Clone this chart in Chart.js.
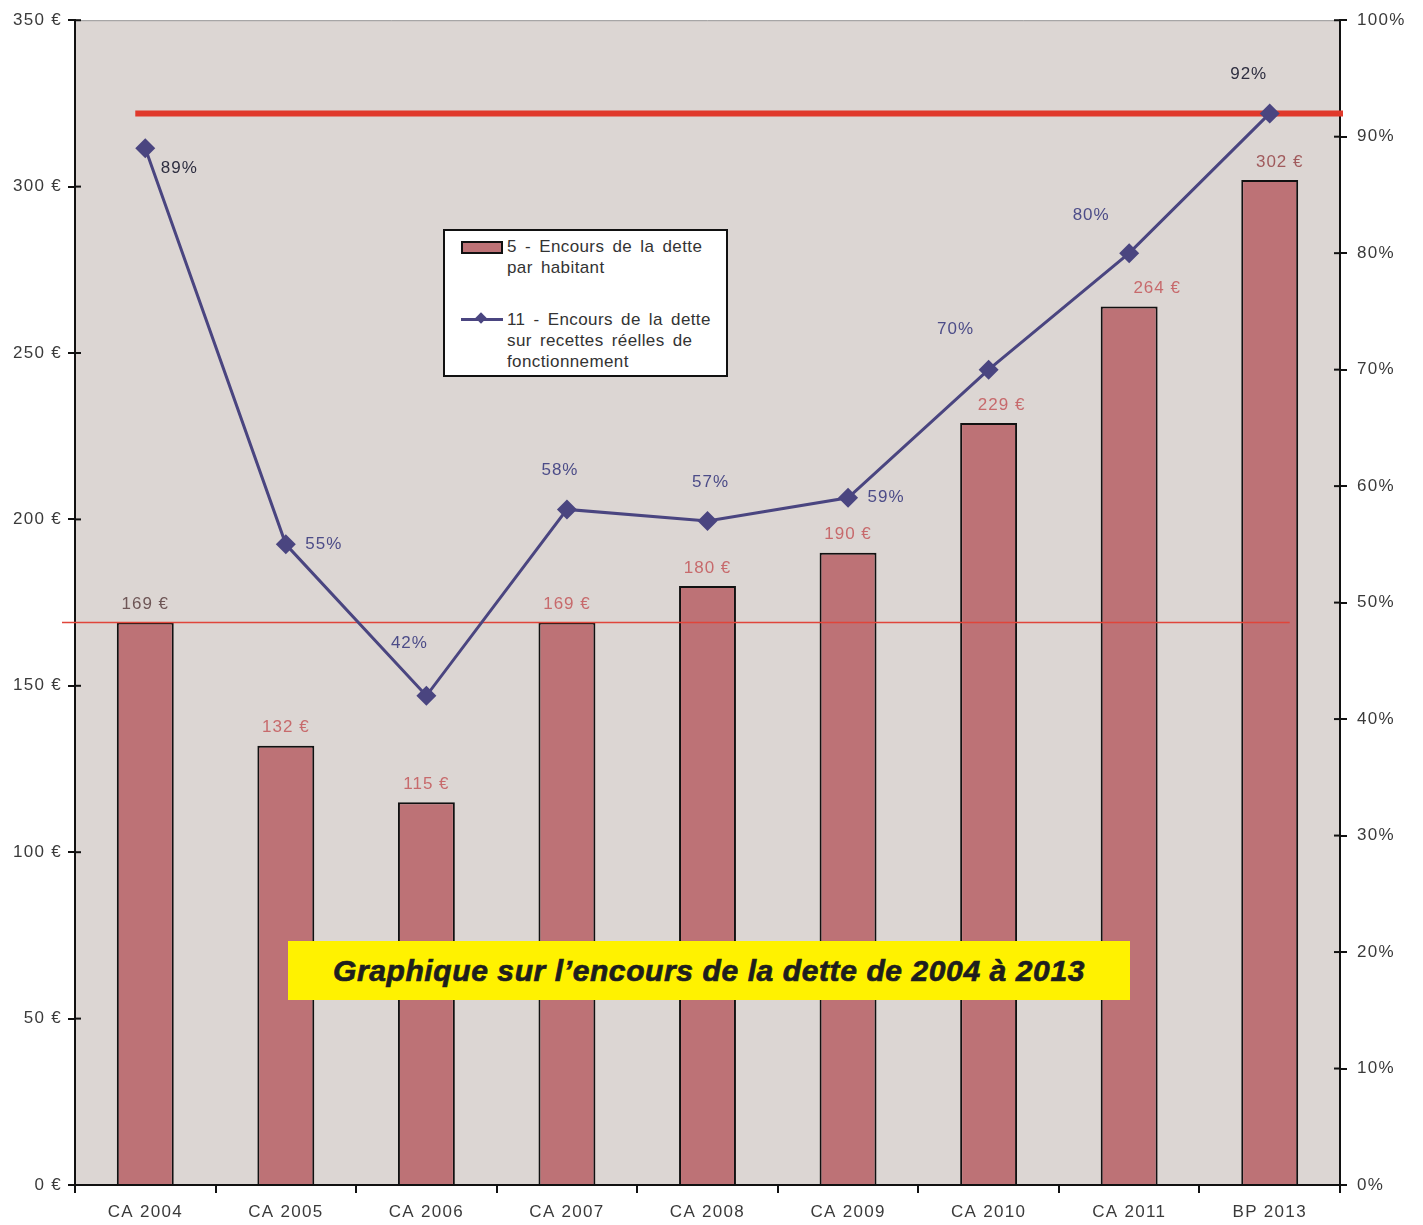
<!DOCTYPE html>
<html lang="fr">
<head>
<meta charset="utf-8">
<script src="https://cdn.jsdelivr.net/npm/chart.js@4/dist/chart.umd.min.js"></script>
<style>
  html, body { margin: 0; padding: 0; background: #fff; }
  #wrap { position: relative; width: 1423px; height: 1225px; }
  #legend {
    position: absolute; left: 443px; top: 229px; width: 281px; height: 144px;
    background: #fff; border: 2px solid #111;
    font-family: "Liberation Sans", Arial, sans-serif; font-size: 17px; color: #333; line-height: 21px;
    letter-spacing: 0.4px;
  }
  .lg-row { position: absolute; left: 62px; word-spacing: 3px; white-space: nowrap; }
  .sw-bar { position: absolute; left: 16px; top: 10px; width: 38px; height: 9px; background: #bd7276; border: 2px solid #111; }
  .sw-line { position: absolute; left: 16px; top: 87px; width: 42px; height: 3px; background: #4a4580; }
  .sw-dot { position: absolute; left: 32px; top: 83px; width: 8px; height: 8px; background: #4a4580; transform: rotate(45deg); }
  #title {
    position: absolute; left: 288px; top: 941px; width: 842px; height: 59px;
    background: #fff200; color: #1e1e1e; text-align: center; line-height: 59px;
    font-family: "Liberation Sans", Arial, sans-serif; font-weight: bold; font-style: italic; font-size: 30px;
    letter-spacing: 0.6px; -webkit-text-stroke: 0.7px #1e1e1e;
  }
</style>
</head>
<body>
<div id="wrap">
  <canvas id="chart" width="1423" height="1225"></canvas>
  <div id="legend">
    <div class="sw-bar"></div>
    <div class="lg-row" style="top:5px">5 - Encours de la dette<br>par habitant</div>
    <div class="sw-line"></div><div class="sw-dot"></div>
    <div class="lg-row" style="top:78px">11 - Encours de la dette<br>sur recettes réelles de<br>fonctionnement</div>
  </div>
  <div id="title">Graphique sur l’encours de la dette de 2004 à 2013</div>
</div>
<script>
const categories = ['CA 2004', 'CA 2005', 'CA 2006', 'CA 2007', 'CA 2008', 'CA 2009', 'CA 2010', 'CA 2011', 'BP 2013'];
const detteHabitant = [169, 132, 115, 169, 180, 190, 229, 264, 302];
const detteRecettes = [89, 55, 42, 58, 57, 59, 70, 80, 92];
const refHabitant = 169;
const refRecettes = 92;

const FONT = '"Liberation Sans", Arial, sans-serif';

// decalages des etiquettes (style)
const barLabelDx = [0, 0, 0, 0, 0, 0, 13, 28, 10];
const lineLabelOff = [[34, 20], [38, 0], [-17, -52], [-7, -39], [3, -39], [38, 0], [-33, -40], [-38, -38], [-21, -39]];
const barLabelColor = ['#6e5656', '#c76a6c', '#c76a6c', '#c76a6c', '#c76a6c', '#c76a6c', '#c76a6c', '#c76a6c', '#a05a5c'];
const lineLabelColor = ['#2e2e40', '#4c4c88', '#4c4c88', '#4c4c88', '#4c4c88', '#4c4c88', '#4c4c88', '#4c4c88', '#2e2e40'];

const decor = {
  id: 'decor',
  beforeDraw(chart) {
    const { ctx, chartArea: a } = chart;
    ctx.letterSpacing = '1.3px';
    ctx.save();
    ctx.fillStyle = '#dcd6d3';
    ctx.fillRect(a.left, a.top, a.right - a.left, a.bottom - a.top);
    ctx.strokeStyle = '#9a9a9a';
    ctx.lineWidth = 1;
    ctx.beginPath(); ctx.moveTo(a.left, a.top + 0.5); ctx.lineTo(a.right, a.top + 0.5); ctx.stroke();
    ctx.restore();
  },
  afterDatasetsDraw(chart) {
    const { ctx, chartArea: a, scales } = chart;
    const x = scales.x, y = scales.y, y1 = scales.y1;
    ctx.save();
    // ligne fine a 169 €
    const yr = y.getPixelForValue(refHabitant);
    ctx.strokeStyle = '#e0453a'; ctx.lineWidth = 1.5;
    ctx.beginPath(); ctx.moveTo(a.left - 13, yr); ctx.lineTo(x.getPixelForValue(8) + 20, yr); ctx.stroke();
    // ligne epaisse a 92 %
    const yp = y1.getPixelForValue(refRecettes);
    ctx.strokeStyle = '#e0392b'; ctx.lineWidth = 6;
    ctx.beginPath(); ctx.moveTo(x.getPixelForValue(0) - 10, yp); ctx.lineTo(a.right + 3, yp); ctx.stroke();

    // redessiner la courbe au-dessus des lignes rouges
    const meta = chart.getDatasetMeta(1);
    ctx.strokeStyle = '#4a4580'; ctx.lineWidth = 3;
    ctx.beginPath();
    meta.data.forEach((p, i) => { if (i) ctx.lineTo(p.x, p.y); else ctx.moveTo(p.x, p.y); });
    ctx.stroke();
    ctx.fillStyle = '#4a4580';
    meta.data.forEach(p => {
      ctx.beginPath();
      ctx.moveTo(p.x, p.y - 10); ctx.lineTo(p.x + 10, p.y); ctx.lineTo(p.x, p.y + 10); ctx.lineTo(p.x - 10, p.y);
      ctx.closePath(); ctx.fill();
    });

    // tirets internes des axes
    ctx.strokeStyle = '#111'; ctx.lineWidth = 2;
    y.ticks.forEach(t => {
      const py = y.getPixelForValue(t.value);
      ctx.beginPath(); ctx.moveTo(a.left, py); ctx.lineTo(a.left + 6, py); ctx.stroke();
    });
    y1.ticks.forEach(t => {
      const py = y1.getPixelForValue(t.value);
      ctx.beginPath(); ctx.moveTo(a.right - 6, py); ctx.lineTo(a.right, py); ctx.stroke();
    });

    // etiquettes
    ctx.font = '17px ' + FONT;
    ctx.letterSpacing = '1px';
    ctx.textAlign = 'center'; ctx.textBaseline = 'middle';
    chart.getDatasetMeta(0).data.forEach((b, i) => {
      ctx.fillStyle = barLabelColor[i];
      ctx.fillText(detteHabitant[i] + ' €', b.x + barLabelDx[i], b.y - 18);
    });
    meta.data.forEach((p, i) => {
      ctx.fillStyle = lineLabelColor[i];
      ctx.fillText(detteRecettes[i] + '%', p.x + lineLabelOff[i][0], p.y + lineLabelOff[i][1]);
    });
    ctx.restore();
  }
};

new Chart(document.getElementById('chart'), {
  data: {
    labels: categories,
    datasets: [
      {
        type: 'bar', label: '5 - Encours de la dette par habitant', data: detteHabitant, yAxisID: 'y',
        backgroundColor: '#bd7276', borderColor: '#111', borderWidth: 2, borderSkipped: 'bottom',
        barPercentage: 0.405, categoryPercentage: 1, order: 2
      },
      {
        type: 'line', label: '11 - Encours de la dette sur recettes réelles de fonctionnement', data: detteRecettes, yAxisID: 'y1',
        borderColor: 'rgba(0,0,0,0)', pointRadius: 0, order: 1
      }
    ]
  },
  options: {
    responsive: false,
    animation: false,
    layout: { padding: { top: 18, bottom: 0 } },
    plugins: { legend: { display: false }, tooltip: { enabled: false } },
    scales: {
      x: {
        offset: true,
        afterFit(s) { s.height = 40; },
        grid: { offset: true, drawOnChartArea: false, tickLength: 8, color: '#111', lineWidth: 2 },
        border: { color: '#111', width: 2 },
        ticks: { color: '#3a3a3a', font: { family: FONT, size: 17 }, padding: 9 }
      },
      y: {
        position: 'left', min: 0, max: 350,
        afterFit(s) { s.width = 75; },
        grid: { drawOnChartArea: false, tickLength: 7, color: '#111', lineWidth: 2 },
        border: { color: '#111', width: 2 },
        ticks: { stepSize: 50, color: '#3a3a3a', font: { family: FONT, size: 17 }, padding: 6, callback: v => v + ' €' }
      },
      y1: {
        position: 'right', min: 0, max: 100,
        afterFit(s) { s.width = 83; },
        grid: { drawOnChartArea: false, tickLength: 7, color: '#111', lineWidth: 2 },
        border: { color: '#111', width: 2 },
        ticks: { stepSize: 10, color: '#3a3a3a', font: { family: FONT, size: 17 }, padding: 10, callback: v => v + '%' }
      }
    }
  },
  plugins: [decor]
});
</script>
</body>
</html>
